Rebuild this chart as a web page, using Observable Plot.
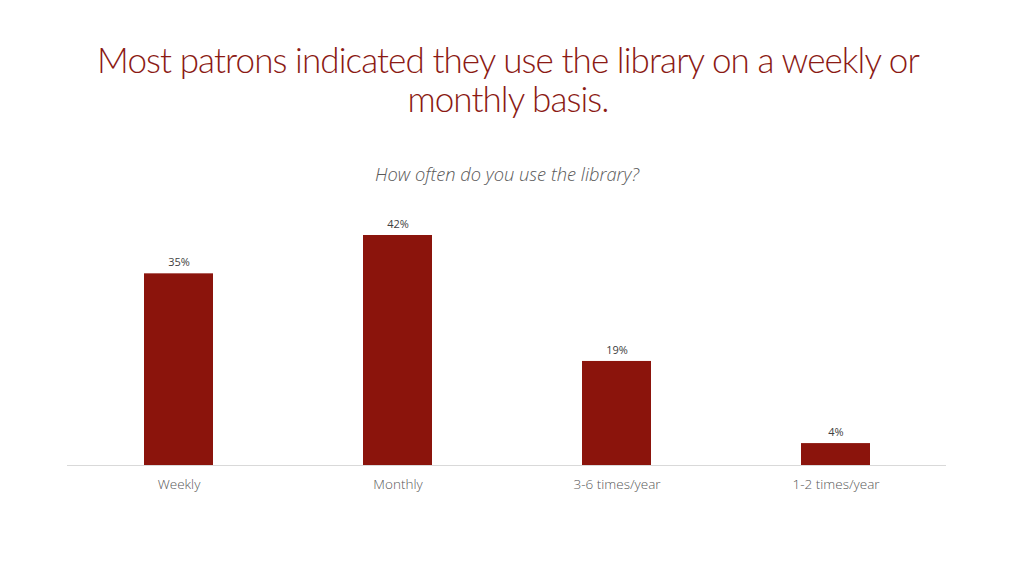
<!DOCTYPE html>
<html>
<head>
<meta charset="utf-8">
<script src="https://cdn.jsdelivr.net/npm/d3@7"></script>
<script src="https://cdn.jsdelivr.net/npm/@observablehq/plot@0.6"></script>
<style>
  html, body { margin: 0; padding: 0; background: #fff; }
  #wrap { position: relative; width: 1024px; height: 576px; overflow: hidden; }
  #title { position: absolute; left: -4px; top: 40px; width: 1024px; text-align: center;
    font-family: Lato, "Open Sans", sans-serif; font-weight: 300; font-size: 35px; line-height: 39px;
    color: #8B1A14; letter-spacing: -0.9px; }
  #subtitle { position: absolute; left: -5px; top: 161px; width: 1024px; text-align: center;
    font-family: "Open Sans", sans-serif; font-style: italic; font-weight: 300; font-size: 18.3px; color: #595959; }
  #chart { position: absolute; left: 0; top: 200px; }
</style>
</head>
<body>
<div id="wrap">
  <div id="title">Most patrons indicated they use the library on a weekly or<br>monthly basis.</div>
  <div id="subtitle">How often do you use the library?</div>
  <div id="chart"></div>
</div>
<script>
const categories = ["Weekly", "Monthly", "3-6 times/year", "1-2 times/year"];
const values = [35, 42, 19, 4];
const labels = ["35%", "42%", "19%", "4%"];

const data = categories.map((c, i) => ({category: c, value: values[i], label: labels[i]}));

const plot = Plot.plot({
  width: 1024,
  height: 300,
  marginLeft: 67,
  marginRight: 78,
  marginTop: 35,
  marginBottom: 35,
  style: {fontFamily: "'Open Sans', sans-serif", background: "transparent"},
  x: {domain: categories, paddingInner: 0.686, paddingOuter: 0.343, label: null},
  y: {domain: [0, 42], axis: null},
  marks: [
    Plot.barY(data, {x: "category", y: "value", fill: "#8B140C"}),
    Plot.ruleY([0], {stroke: "#d9d9d9", strokeWidth: 1.2}),
    Plot.text(data, {x: "category", y: "value", text: "label", dy: -11, fontSize: 11, fill: "#404040"}),
    Plot.axisX({tickSize: 0, tickPadding: 14, fontSize: 13.5, fill: "#595959", label: null, fontWeight: 300})
  ]
});
document.getElementById("chart").appendChild(plot);
</script>
</body>
</html>
